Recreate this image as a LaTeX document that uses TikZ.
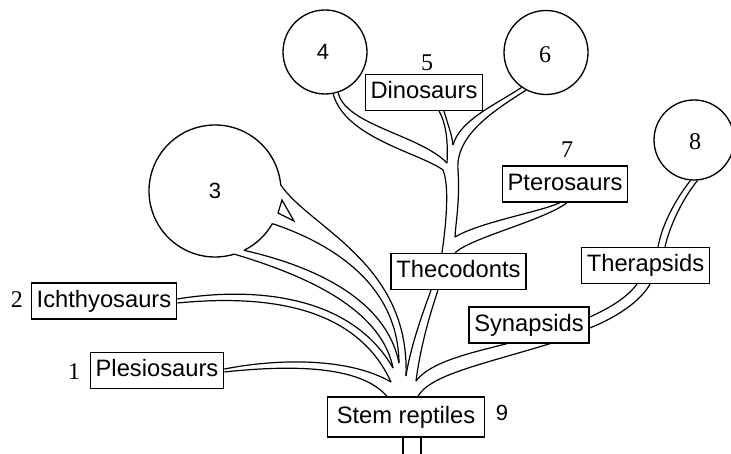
\documentclass[tikz,border=0pt]{standalone}
\usepackage{fontspec}
\setmainfont{Liberation Serif}
\setsansfont{Liberation Sans}
\usepackage{tikz}

\tikzset{
  taxon/.style={draw, line width=1pt, font=\sffamily\fontsize{17.8}{20}\selectfont,
    inner xsep=4pt, inner ysep=5.25pt, text height=12.8pt, text depth=3.7pt},
  clade/.style={draw, circle, line width=1pt, inner sep=0pt},
  num/.style={font=\fontsize{18}{20}\selectfont, inner sep=0pt},
  snum/.style={font=\sffamily\fontsize{16.5}{20}\selectfont, inner sep=0pt},
  tube/.style={line width=0.9pt},
}

\begin{document}
\begin{tikzpicture}[x=0.75pt, y=0.75pt]
	\useasboundingbox (0,0) rectangle (731,453);
	% taxa
	\node[taxon, inner xsep=7pt, inner ysep=6.75pt] (stem) at (406,36) {Stem reptiles};
	\node[taxon] (plesio) at (157,82.5) {Plesiosaurs};
	\node[taxon] (ichthyo) at (104,152) {Ichthyosaurs};
	\node[taxon] (thec) at (458.5,181.5) {Thecodonts};
	\node[taxon] (syn) at (529,128) {Synapsids};
	\node[taxon] (ther) at (645.5,187.5) {Therapsids};
	\node[taxon] (ptero) at (565,269) {Pterosaurs};
	\node[taxon] (dino) at (424,360.5) {Dinosaurs};
	% groups
	\coordinate (c3) at (215,262);
	\node[clade, minimum size=63pt] (c4) at (325,401) {};
	\node[clade, minimum size=63pt] (c6) at (546,400.5) {};
	\node[clade, minimum size=60pt] (c8) at (694,313) {};
	\draw[line width=1pt] ([shift={(5.3:66)}]c3) arc[start angle=5.3, end angle=287, radius=49.5pt];
	\draw[line width=1pt] ([shift={(-64:66)}]c3) arc[start angle=-64, end angle=-29.6, radius=49.5pt];
	\draw[tube] (282,253) -- (278,240) -- (294,232) -- cycle;
	% numbers
	\node[num] (n1) at (74,81) {1};
	\node[num] (n2) at (17,153) {2};
	\node[snum] (n3) at (c3) {3};
	\node[snum] (n4) at (323,401) {4};
	\node[num] (n5) at (427,390) {5};
	\node[num] (n6) at (545,398) {6};
	\node[num] (n7) at (567,303) {7};
	\node[num] (n8) at (695,311) {8};
	\node[snum] (n9) at (502,40) {9};
	% forks
	\coordinate (v1) at (391,71);
	\coordinate (v2) at (393,85);
	\coordinate (v3) at (399,90);
	\coordinate (v4) at (406,77);
	\coordinate (v5) at (416,72);
	\coordinate (v6) at (455,216);
	\coordinate (v7) at (447,290);
	\coordinate (v8) at (453,308);
	% base
	\draw[tube] ([xshift=-2.25pt]stem.south) -- ++(0,-16);
	\draw[tube] ([xshift=11.25pt]stem.south) -- ++(0,-16);
	% left fan
	\draw[tube] ([yshift=1.1pt]plesio.east) .. controls (280,95) and (350,95) .. (v1);
	\draw[tube] ([yshift=-1.1pt]plesio.east) .. controls (290,88) and (360,88) .. ([xshift=-14.25pt]stem.north);
	\draw[tube] ([yshift=1.5pt]ichthyo.east) .. controls (250,166) and (350,160) .. (v2);
	\draw[tube] ([yshift=-1.5pt]ichthyo.east) .. controls (260,158) and (355,150) .. (v1);
	\draw[tube] ([shift={(5.3:66)}]c3) .. controls (310,225) and (410,190) .. (v4);
	\draw[tube] ([shift={(-29.6:66)}]c3) .. controls (330,210) and (398,170) .. (v3);
	\draw[tube] ([shift={(-64:66)}]c3) .. controls (300,190) and (385,160) .. (v3);
	\draw[tube] ([shift={(-73:66)}]c3) .. controls (290,182) and (380,150) .. (v2);
	% trunk
	\draw[tube] ([xshift=-20.6pt]thec.south) .. controls (420,133) and (410,103) .. (v4);
	\draw[tube] ([xshift=-15.4pt]thec.south) .. controls (428,133) and (420,103) .. (v5);
	\draw[tube] ([xshift=-12.4pt]thec.north) .. controls (447,235) and (449,268) .. (443,283)
		.. controls (420,300) and (345,315) .. (c4.-79);
	\draw[tube] (c4.-72) .. controls (345,328) and (420,318) .. (v7);
	\draw[tube] ([xshift=11.25pt]dino.south) .. controls (447,328) and (448,308) .. (v7);
	\draw[tube] ([xshift=15pt]dino.south) .. controls (448,328) and (452,318) .. (v8);
	\draw[tube] (c6.-125) .. controls (495,348) and (460,333) .. (v8);
	\draw[tube] (c6.-118) .. controls (495,343) and (455,318) .. (458,283)
		.. controls (460,253) and (456,233) .. (v6);
	\draw[tube] ([xshift=-3.75pt]ptero.south) .. controls (540,241) and (480,231) .. (v6);
	\draw[tube] ([xshift=1.5pt]ptero.south) .. controls (545,233) and (470,215) .. ([xshift=-2.6pt]thec.north);
	% right side
	\draw[tube] ([xshift=-16.5pt]syn.south) .. controls (470,100) and (430,91) .. (v5);
	\draw[tube] ([xshift=15.75pt]syn.south) .. controls (480,88) and (430,78) .. ([xshift=9pt]stem.north);
	\draw[tube] ([xshift=-6.4pt]ther.south) .. controls (625,153) and (605,143) .. ([yshift=6pt]syn.east);
	\draw[tube] ([xshift=3.4pt]ther.south) .. controls (640,151) and (615,135) .. ([yshift=-2.25pt]syn.east);
	\draw[tube] (c8.-95) .. controls (675,253) and (662,228) .. ([xshift=9.4pt]ther.north);
	\draw[tube] (c8.-85) .. controls (683,255) and (670,228) .. ([xshift=14.6pt]ther.north);
\end{tikzpicture}
\end{document}
